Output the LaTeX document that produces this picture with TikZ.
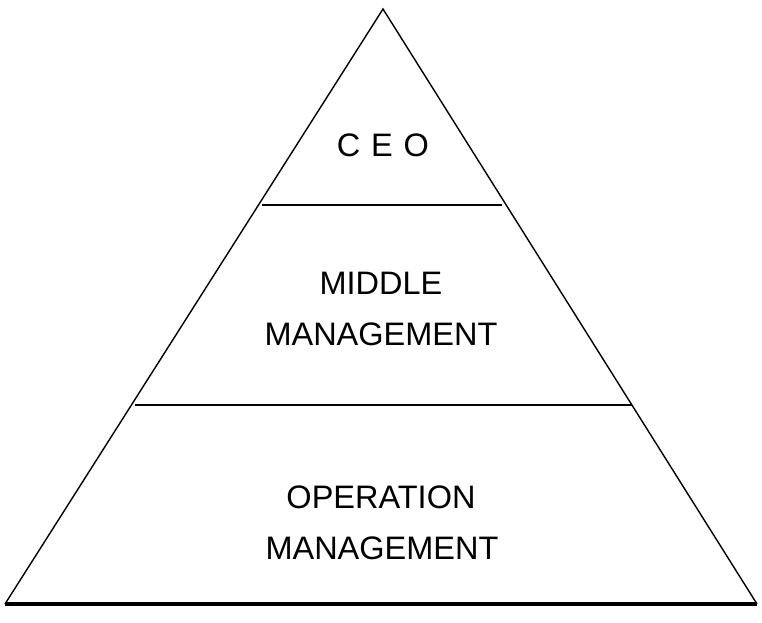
\documentclass[tikz,border=0pt]{standalone}
\usepackage{fontspec}
\setmainfont{Liberation Sans}
\begin{document}
\begin{tikzpicture}[x=0.02cm,y=-0.02cm,font=\fontsize{18.5}{22}\selectfont]
\useasboundingbox (0,0) rectangle (762,623);
\coordinate (top) at (383,9);\coordinate (bl) at (5,604);\coordinate (br) at (757,604);
\coordinate (al) at (262,205);\coordinate (ar) at (502,205);
\coordinate (bbl) at (135,405);\coordinate (bbr) at (632,405);
\draw[line width=0.8pt] (bl) -- (top) -- (br);
\draw[line width=1.8pt] (bl) -- (br);
\draw[line width=1.6pt] (al) -- (ar);
\draw[line width=1.6pt] (bbl) -- (bbr);
\node at (383,145) (ceo) {C\,\,E\,\,O};
\node at (381,283) (mid) {MIDDLE};\node at (381,334) (midm) {MANAGEMENT};
\node at (381,497) (op) {OPERATION};\node at (382,548) (opm) {MANAGEMENT};
\end{tikzpicture}
\end{document}
